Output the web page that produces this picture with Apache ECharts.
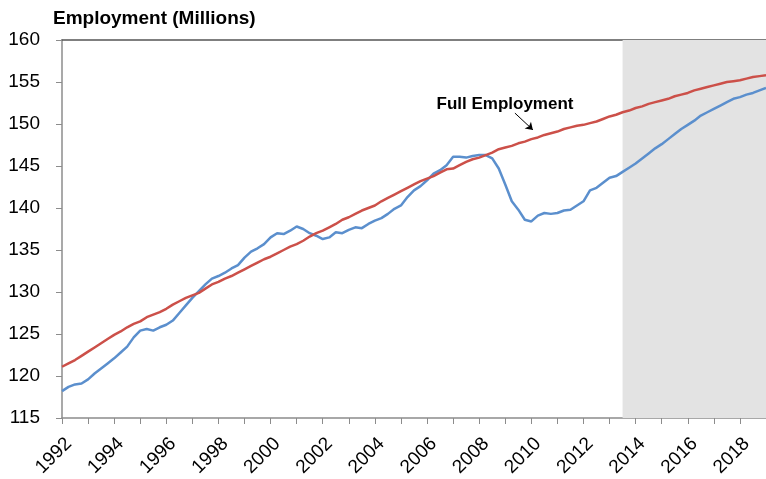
<!DOCTYPE html>
<html lang="en" style="height: 100%">
<head>
  <meta charset="utf-8">
  <script src="https://cdn.jsdelivr.net/npm/echarts@6/dist/echarts.min.js"></script>
</head>
<body style="height: 100%; margin: 0; background: #fff">
  <div id="container" style="width: 766px; height: 479px"></div>
  <script type="text/javascript">
    // quarterly values, first quarter 1992 onward
    var startYear = 1992;
    var employment = [
      118.2, 118.7, 119.0, 119.1,
      119.6, 120.3, 120.9, 121.5,
      122.1, 122.8, 123.5, 124.6,
      125.4, 125.6, 125.4, 125.8,
      126.1, 126.6, 127.5, 128.4,
      129.3, 130.1, 130.9, 131.6,
      131.9, 132.3, 132.8, 133.2,
      134.1, 134.8, 135.2, 135.7,
      136.5, 137.0, 136.9, 137.3,
      137.8, 137.5, 137.0, 136.7,
      136.3, 136.5, 137.1, 137.0,
      137.4, 137.7, 137.6, 138.1,
      138.5, 138.8, 139.3, 139.9,
      140.3, 141.3, 142.1, 142.6,
      143.3, 144.1, 144.5, 145.1,
      146.1, 146.1, 146.0, 146.2,
      146.3, 146.3, 145.9, 144.7,
      142.8, 140.8, 139.8, 138.6,
      138.4, 139.1, 139.4, 139.3,
      139.4, 139.7, 139.8, 140.3,
      140.8, 142.1, 142.4, 143.0,
      143.6, 143.8, 144.3, 144.8,
      145.3, 145.9, 146.5, 147.1,
      147.6, 148.2, 148.8, 149.4,
      149.9, 150.4, 151.0, 151.4,
      151.8, 152.2, 152.6, 153.0,
      153.2, 153.5, 153.7, 154.0,
      154.3
    ];
    var fullEmployment = [
      121.1, 121.5, 121.9, 122.4,
      122.9, 123.4, 123.9, 124.4,
      124.9, 125.3, 125.8, 126.2,
      126.5, 127.0, 127.3, 127.6,
      128.0, 128.5, 128.9, 129.3,
      129.6, 129.9, 130.4, 130.9,
      131.2, 131.6, 131.9, 132.3,
      132.7, 133.1, 133.5, 133.9,
      134.2, 134.6, 135.0, 135.4,
      135.7, 136.1, 136.6, 137.0,
      137.3, 137.7, 138.1, 138.6,
      138.9, 139.3, 139.7, 140.0,
      140.3, 140.8, 141.2, 141.6,
      142.0, 142.4, 142.8, 143.2,
      143.5, 143.8, 144.2, 144.6,
      144.7, 145.1, 145.5, 145.8,
      146.0, 146.3, 146.6, 147.0,
      147.2, 147.4, 147.7, 147.9,
      148.2, 148.4, 148.7, 148.9,
      149.1, 149.4, 149.6, 149.8,
      149.9, 150.1, 150.3, 150.6,
      150.9, 151.1, 151.4, 151.6,
      151.9, 152.1, 152.4, 152.6,
      152.8, 153.0, 153.3, 153.5,
      153.7, 154.0, 154.2, 154.4,
      154.6, 154.8, 155.0, 155.1,
      155.2, 155.4, 155.6, 155.7,
      155.8
    ];
    var projectionStart = 2013.5;
    var projectionEnd = 2019;
    var labelPos = [2008.99, 152.38];
    var arrowFrom = [2009.37, 151.3];
    var arrowTo = [2010.06, 149.3];

    var font = '"Liberation Sans", Arial, sans-serif';
    var toXY = function (arr) {
      return arr.map(function (v, i) { return [startYear + i / 4, v]; });
    };

    var myChart = echarts.init(document.getElementById('container'), null, { renderer: 'canvas' });

    var option = {
      animation: false,
      backgroundColor: '#fff',
      title: {
        text: 'Employment (Millions)',
        left: 53, top: 9, padding: 0,
        textStyle: { fontFamily: font, fontSize: 19, fontWeight: 'bold', color: '#000' }
      },
      // keep the plot box fixed, labels may run to the edge
      grid: { left: 62, right: 0, top: 40, bottom: 61, outerBoundsMode: 'none' },
      xAxis: [{
        type: 'value', min: 1992, max: 2019, interval: 1,
        axisLine: { lineStyle: { color: '#8c8c8c', width: 1.5 } },
        axisTick: { show: true, length: 6, lineStyle: { color: '#8c8c8c' } },
        splitLine: { show: false },
        axisLabel: {
          rotate: 45, margin: 16, verticalAlign: 'top',
          color: '#000', fontFamily: font, fontSize: 19,
          formatter: function (v) { return v % 2 === 0 && v < 2019 ? String(v) : ''; }
        }
      }, {
        type: 'value', position: 'top', min: 1992, max: 2019,
        axisLine: { show: true, lineStyle: { color: '#555', width: 1.5 } },
        axisTick: { show: false }, axisLabel: { show: false }, splitLine: { show: false }
      }],
      yAxis: {
        type: 'value', min: 115, max: 160, interval: 5,
        axisLine: { show: true, lineStyle: { color: '#8c8c8c', width: 1.5 } },
        axisTick: { show: true, length: 6, lineStyle: { color: '#8c8c8c' } },
        splitLine: { show: false },
        axisLabel: { margin: 22, color: '#000', fontFamily: font, fontSize: 19 }
      },
      series: [{
        name: 'Employment', type: 'line', data: toXY(employment),
        showSymbol: false, lineStyle: { color: '#5b8fcd', width: 2.5 },
        markArea: {
          silent: true,
          itemStyle: { color: '#e3e3e3' },
          data: [[{ xAxis: projectionStart }, { xAxis: projectionEnd }]]
        }
      }, {
        name: 'Full Employment', type: 'line', data: toXY(fullEmployment),
        showSymbol: false, lineStyle: { color: '#cc5049', width: 2.5 },
        markLine: {
          silent: true, symbol: ['none', 'arrow'], symbolSize: 7,
          lineStyle: { color: '#000', width: 1, type: 'solid' },
          label: { show: false },
          data: [[{ coord: arrowFrom }, { coord: arrowTo }]]
        },
        markPoint: {
          silent: true, symbol: 'circle', symbolSize: 1,
          itemStyle: { color: 'rgba(0,0,0,0)' },
          label: {
            show: true, position: 'inside', formatter: 'Full Employment', color: '#000',
            fontFamily: font, fontSize: 17, fontWeight: 'bold'
          },
          data: [{ coord: labelPos }]
        }
      }]
    };
    myChart.setOption(option);
    window.addEventListener('resize', myChart.resize);
  </script>
</body>
</html>
